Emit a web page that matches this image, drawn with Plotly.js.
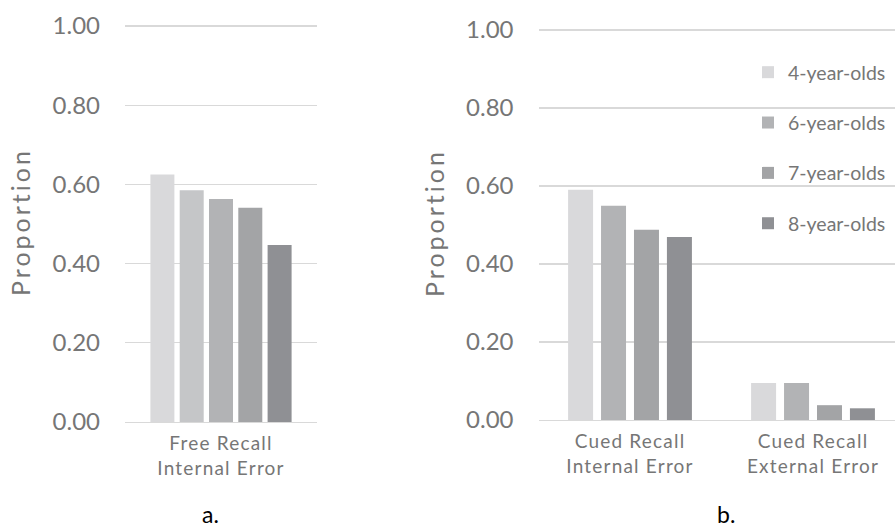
<!DOCTYPE html>
<html>
<head>
<meta charset="utf-8">
<script src="https://cdn.plot.ly/plotly-3.0.1.min.js"></script>
<style>
html,body{margin:0;padding:0;background:#fff;}
#chart{width:895px;height:528px;}
#chart .ytitle, #chart .y2title{letter-spacing:3px;}
#chart .xtick text, #chart .x2tick text{letter-spacing:1.2px;}
</style>
</head>
<body>
<div id="chart"></div>
<script>
// ---- data ----
var categoriesA = ['Free Recall<br>Internal Error'];
var categoriesB = ['Cued Recall<br>Internal Error', 'Cued Recall<br>External Error'];
var groupsA = ['4-year-olds', '5-year-olds', '6-year-olds', '7-year-olds', '8-year-olds'];
var valuesA = [0.625, 0.585, 0.563, 0.541, 0.447];
var groupsB = ['4-year-olds', '6-year-olds', '7-year-olds', '8-year-olds'];
var values4 = [0.590, 0.095];
var values6 = [0.549, 0.095];
var values7 = [0.488, 0.038];
var values8 = [0.469, 0.030];
var yTickVals = [0, 0.2, 0.4, 0.6, 0.8, 1.0];
var yTickText = ['0.00', '0.20', '0.40', '0.60', '0.80', '1.00'];
var panelLabels = ['a.', 'b.'];

// ---- styles ----
var colorsA = ['#d9d9db', '#c5c6c8', '#b2b3b5', '#a3a4a6', '#8f9094'];
var colorsB = ['#d9d9db', '#b2b3b5', '#a3a4a6', '#8f9094'];
var textColor = '#767676';
var gridColor = '#d9d9d9';
var FONT = 'Lato, "Open Sans", sans-serif';

var traces = [];
// Panel a
var wA = 0.125, sA = 0.1526;
groupsA.forEach(function (g, i) {
  traces.push({
    type: 'bar', x: categoriesA, y: [valuesA[i]], name: g,
    xaxis: 'x', yaxis: 'y', showlegend: false,
    marker: {color: colorsA[i]},
    width: wA, offset: (i - 2) * sA - wA / 2,
    hoverinfo: 'name+y'
  });
});
// Panel b
var seriesB = [values4, values6, values7, values8];
var wB = 0.1366, sB = 0.180;
groupsB.forEach(function (g, i) {
  traces.push({
    type: 'bar', x: categoriesB, y: seriesB[i], name: g,
    xaxis: 'x2', yaxis: 'y2', legendgroup: 'g' + i,
    marker: {color: colorsB[i]},
    width: wB, offset: (i - 1.5) * sB - wB / 2,
    hoverinfo: 'name+y'
  });
});

function yax(domain, anchor) {
  return {
    domain: domain, anchor: anchor, range: [0, 1.01],
    tickvals: yTickVals, ticktext: yTickText,
    showgrid: true, gridcolor: gridColor, gridwidth: 1.3,
    zeroline: false, showline: false, ticks: '',
    ticklabelstandoff: 24,
    tickfont: {family: FONT, size: 24, color: textColor},
    title: {text: 'Proportion', font: {family: FONT, size: 25, color: textColor}, standoff: 14},
    automargin: false, fixedrange: true
  };
}
function xax(domain, anchor, range) {
  return {
    domain: domain, anchor: anchor, type: 'category', range: range,
    showgrid: false, zeroline: false,
    showline: true, linecolor: gridColor, linewidth: 1.3, ticks: '',
    tickfont: {family: FONT, size: 19, color: textColor},
    ticklabelstandoff: 4,
    automargin: false, fixedrange: true
  };
}

var layout = {
  width: 895, height: 528,
  margin: {l: 0, r: 0, t: 0, b: 0},
  paper_bgcolor: '#ffffff', plot_bgcolor: '#ffffff',
  barmode: 'overlay',
  showlegend: true,
  legend: {
    x: 748 / 895, y: 1 - 53 / 528, xanchor: 'left', yanchor: 'top',
    font: {family: FONT, size: 19.5, color: textColor},
    traceorder: 'grouped', tracegroupgap: 22,
    bgcolor: 'rgba(0,0,0,0)'
  },
  xaxis: xax([125 / 895, 317 / 895], 'y', [-0.5, 0.5]),
  yaxis: yax([106 / 528, 506 / 528], 'x'),
  xaxis2: xax([538.5 / 895, 1], 'y2', [-0.5, 1.448]),
  yaxis2: yax([108 / 528, 502 / 528], 'x2'),
  annotations: [
    {text: panelLabels[0], x: 210 / 895, y: 1 - 514 / 528, xref: 'paper', yref: 'paper',
     xanchor: 'center', yanchor: 'middle',
     showarrow: false, font: {family: FONT, size: 23, color: '#000000'}},
    {text: panelLabels[1], x: 726 / 895, y: 1 - 514 / 528, xref: 'paper', yref: 'paper',
     xanchor: 'center', yanchor: 'middle',
     showarrow: false, font: {family: FONT, size: 23, color: '#000000'}}
  ]
};

Plotly.newPlot('chart', traces, layout, {displayModeBar: false, staticPlot: true});
</script>
</body>
</html>
